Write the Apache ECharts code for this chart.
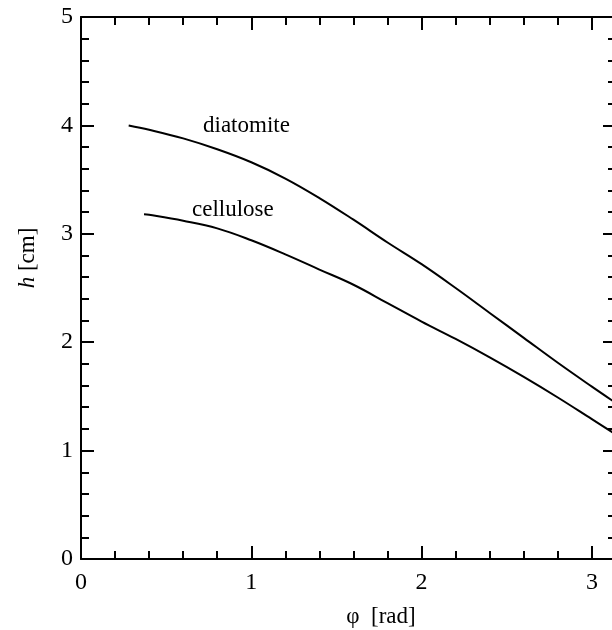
<!DOCTYPE html>
<html>
<head>
<meta charset="utf-8">
<script src="https://cdn.jsdelivr.net/npm/echarts@6/dist/echarts.min.js"></script>
<style>html,body{margin:0;padding:0;background:#fff}#c{width:612px;height:630px}</style>
</head>
<body>
<div id="c"></div>
<script>
// phi [rad] vs h [cm]
const diatomiteX = [0.28, 0.4, 0.6, 0.8, 1.0, 1.2, 1.4, 1.6, 1.8, 2.0, 2.2, 2.4, 2.6, 2.8, 3.0, 3.14];
const diatomiteY = [4.00, 3.96, 3.88, 3.78, 3.66, 3.51, 3.33, 3.13, 2.92, 2.72, 2.50, 2.27, 2.04, 1.81, 1.59, 1.44];
const celluloseX = [0.37, 0.4, 0.6, 0.8, 1.0, 1.2, 1.4, 1.6, 1.8, 2.0, 2.2, 2.4, 2.6, 2.8, 3.0, 3.14];
const celluloseY = [3.18, 3.175, 3.12, 3.05, 2.94, 2.81, 2.67, 2.53, 2.36, 2.19, 2.03, 1.86, 1.68, 1.49, 1.29, 1.15];
const xTicks = [0, 1, 2, 3];
const yTicks = [0, 1, 2, 3, 4, 5];

const pair = (xs, ys) => xs.map((x, i) => [x, ys[i]]);
const FONT = 'Liberation Serif';
const axisCommon = {
  type: 'value',
  axisLine: { show: true, onZero: false, lineStyle: { color: '#000', width: 2 } },
  axisTick: { show: true, inside: true, length: 13, lineStyle: { color: '#000', width: 2 } },
  minorTick: { show: true, splitNumber: 5, length: 8, lineStyle: { color: '#000', width: 2 } },
  splitLine: { show: false },
  minorSplitLine: { show: false }
};
const chart = echarts.init(document.getElementById('c'), null, { renderer: 'canvas' });
chart.setOption({
  backgroundColor: '#fff',
  animation: false,
  grid: { left: 81, top: 17, width: 535, height: 542, containLabel: false, outerBoundsMode: 'none' },
  xAxis: [
    Object.assign({}, axisCommon, {
      position: 'bottom', min: 0, max: Math.PI, interval: 1,
      axisLabel: { show: true, color: '#000', fontFamily: FONT, fontSize: 24, margin: 12,
        formatter: v => xTicks.includes(v) ? String(v) : '' }
    }),
    Object.assign({}, axisCommon, {
      position: 'top', min: 0, max: Math.PI, interval: 1,
      axisLabel: { show: false }
    })
  ],
  yAxis: [
    Object.assign({}, axisCommon, {
      position: 'left', min: 0, max: 5, interval: 1,
      axisLabel: { show: true, color: '#000', fontFamily: FONT, fontSize: 24, margin: 8,
        formatter: v => yTicks.includes(v) ? String(v) : '' }
    }),
    Object.assign({}, axisCommon, {
      position: 'right', min: 0, max: 5, interval: 1,
      axisLabel: { show: false }
    })
  ],
  series: [
    { name: 'diatomite', type: 'line', data: pair(diatomiteX, diatomiteY), smooth: 0.4,
      showSymbol: false, lineStyle: { color: '#000', width: 2 }, clip: true },
    { name: 'cellulose', type: 'line', data: pair(celluloseX, celluloseY), smooth: 0.4,
      showSymbol: false, lineStyle: { color: '#000', width: 2 }, clip: true }
  ],
  graphic: [
    { type: 'text', left: 203, top: 114, style: { text: 'diatomite', font: '23px "Liberation Serif"', fill: '#000' } },
    { type: 'text', left: 192, top: 198, style: { text: 'cellulose', font: '23px "Liberation Serif"', fill: '#000' } },
    { type: 'text', x: 381, y: 617, style: { text: 'φ  [rad]', font: '23px "Liberation Serif"', fill: '#000', align: 'center', verticalAlign: 'middle' } },
    { type: 'text', x: 28, y: 258, rotation: Math.PI / 2,
      style: { text: '{i|h} [cm]', align: 'center', verticalAlign: 'middle', fill: '#000',
        font: '23px "Liberation Serif"',
        rich: { i: { fontStyle: 'italic', fontFamily: FONT, fontSize: 23, fill: '#000' } } } }
  ]
});
</script>
</body>
</html>
